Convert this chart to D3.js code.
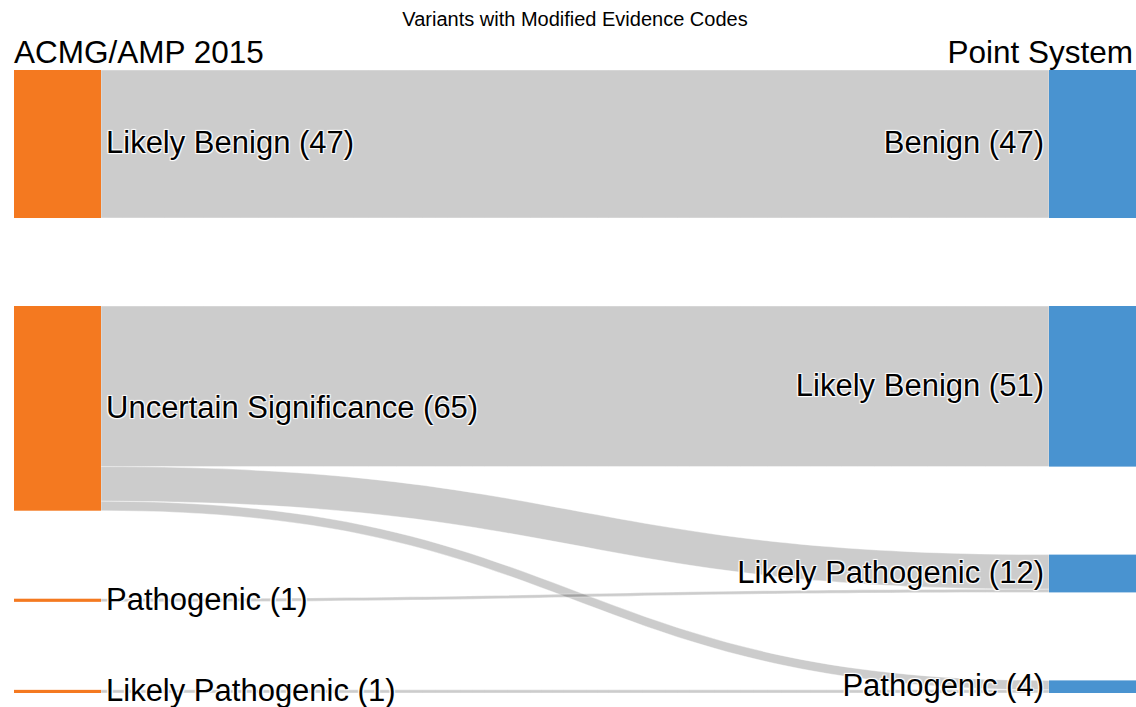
<!DOCTYPE html>
<html>
<head>
<meta charset="utf-8">
<script src="https://cdn.jsdelivr.net/npm/d3@7"></script>
<style>
    html, body { margin: 0; padding: 0; background: #fff; }
    #chart { width: 1136px; height: 707px; }
    svg text { font-family: "Liberation Sans", Arial, sans-serif; fill: #000; }
    .node-label {
        text-shadow: 1px 1px 1px #fff, -1px -1px 1px #fff, 1px -1px 1px #fff, -1px 1px 1px #fff;
    }
</style>
</head>
<body>
<div id="chart"></div>
<script>
// left column (ACMG/AMP 2015) and right column (Point System)
const sourceLabels = ["Likely Benign", "Uncertain Significance", "Pathogenic", "Likely Pathogenic"];
const targetLabels = ["Benign", "Likely Benign", "Likely Pathogenic", "Pathogenic"];

// flows: source index -> target index
const linkSource = [0, 1, 1, 1, 2, 3];
const linkTarget = [0, 1, 2, 3, 2, 3];
const linkValue = [47, 51, 11, 3, 1, 1];

const columnTitles = ["ACMG/AMP 2015", "Point System"];
const chartTitle = "Variants with Modified Evidence Codes";

class SankeyChart {
    constructor(domName) {
        this.domName = domName;
        this.width = document.querySelector(domName).clientWidth;
        this.height = document.querySelector(domName).clientHeight;
    }

    render() {
        let width = this.width,
            height = this.height;

        let top = 70,
            bottom = 693,
            pad = 88,
            nodeW = 87,
            leftX = 14,
            rightX = width - nodeW;

        let links = linkValue.map((v, i) => ({
            source: linkSource[i],
            target: linkTarget[i],
            value: v
        }));

        let makeNodes = (labels, side, key) => labels.map((name, i) => ({
            name: name,
            side: side,
            index: i,
            value: d3.sum(links.filter(l => l[key] === i), l => l.value)
        }));

        let left = makeNodes(sourceLabels, "left", "source");
        let right = makeNodes(targetLabels, "right", "target");

        let total = d3.max([d3.sum(left, d => d.value), d3.sum(right, d => d.value)]);
        let n = Math.max(left.length, right.length);

        let y = d3.scaleLinear()
            .domain([0, total])
            .range([0, (bottom - top) - (n - 1) * pad]);

        let place = (nodes, x) => {
            let acc = 0;
            nodes.forEach((d, i) => {
                d.x0 = x;
                d.x1 = x + nodeW;
                d.y0 = top + y(acc) + i * pad;
                d.y1 = d.y0 + y(d.value);
                acc += d.value;
            });
        };
        place(left, leftX);
        place(right, rightX);

        // stack links inside their nodes, in input order
        let outOff = left.map(d => d.y0);
        let inOff = right.map(d => d.y0);
        links.forEach(l => {
            let h = y(l.value);
            l.sy0 = outOff[l.source];
            l.sy1 = l.sy0 + h;
            outOff[l.source] += h;
            l.ty0 = inOff[l.target];
            l.ty1 = l.ty0 + h;
            inOff[l.target] += h;
        });

        let x0 = leftX + nodeW,
            x1 = rightX,
            xm = (x0 + x1) / 2;

        let linkShape = l => {
            let p = d3.path();
            p.moveTo(x0, l.sy0);
            p.bezierCurveTo(xm, l.sy0, xm, l.ty0, x1, l.ty0);
            p.lineTo(x1, l.ty1);
            p.bezierCurveTo(xm, l.ty1, xm, l.sy1, x0, l.sy1);
            p.closePath();
            return p.toString();
        };

        let svg = d3
            .select(this.domName)
            .append("svg")
            .attr("width", width)
            .attr("height", height);

        svg.append("g")
            .selectAll("path")
            .data(links)
            .enter()
            .append("path")
            .attr("d", linkShape)
            .style("fill", "rgba(0,0,0,0.2)")
            .style("stroke", "rgba(255,255,255,0.8)")
            .style("stroke-width", 0.5);

        let color = d => d.side === "left" ? "#f47920" : "#4993d0";

        let node = svg.append("g")
            .selectAll("rect")
            .data(left.concat(right))
            .enter();

        node.append("rect")
            .attr("x", d => d.x0)
            .attr("y", d => d.y0)
            .attr("width", d => d.x1 - d.x0)
            .attr("height", d => Math.max(1, d.y1 - d.y0))
            .style("fill", color);

        node.append("text")
            .attr("class", "node-label")
            .attr("x", d => d.side === "left" ? d.x1 + 5 : d.x0 - 5)
            .attr("y", d => (d.y0 + d.y1) / 2)
            .attr("dy", "0.3em")
            .attr("text-anchor", d => d.side === "left" ? "start" : "end")
            .style("font-size", "31px")
            .text(d => `${d.name} (${d.value})`);

        svg.append("text")
            .attr("x", leftX)
            .attr("y", 63)
            .style("font-size", "31.5px")
            .text(columnTitles[0]);

        svg.append("text")
            .attr("x", width - 3)
            .attr("y", 63)
            .attr("text-anchor", "end")
            .style("font-size", "31.5px")
            .text(columnTitles[1]);

        svg.append("text")
            .attr("x", 575)
            .attr("y", 26)
            .attr("text-anchor", "middle")
            .style("font-size", "20px")
            .text(chartTitle);
    }
}

new SankeyChart("#chart").render();
</script>
</body>
</html>
